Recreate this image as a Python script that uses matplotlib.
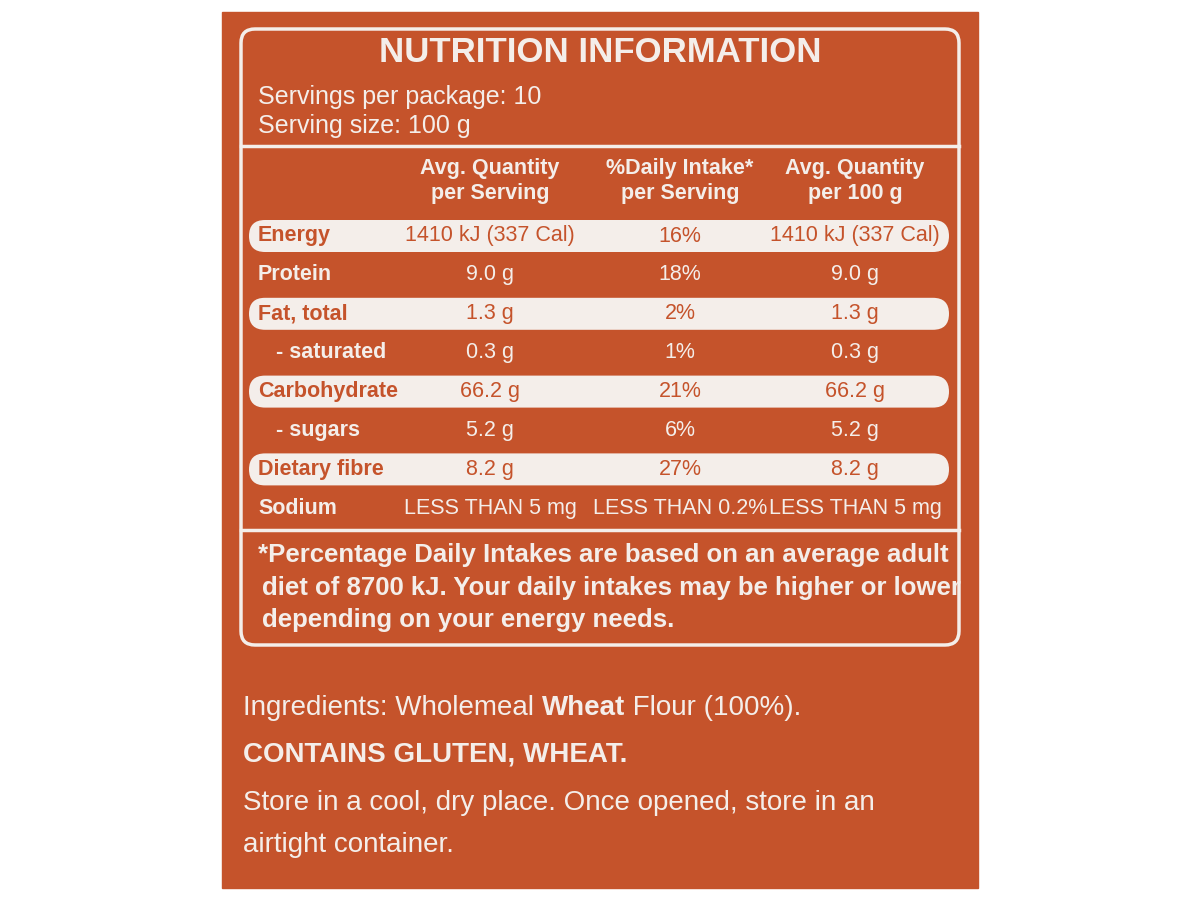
import matplotlib
matplotlib.use("Agg")
import matplotlib.pyplot as plt
from matplotlib.patches import FancyBboxPatch, Rectangle

nutrients = ["Energy", "Protein", "Fat, total", "   - saturated", "Carbohydrate", "   - sugars", "Dietary fibre", "Sodium"]
per_serving = ["1410 kJ (337 Cal)", "9.0 g", "1.3 g", "0.3 g", "66.2 g", "5.2 g", "8.2 g", "LESS THAN 5 mg"]
daily_intake = ["16%", "18%", "2%", "1%", "21%", "6%", "27%", "LESS THAN 0.2%"]
per_100g = ["1410 kJ (337 Cal)", "9.0 g", "1.3 g", "0.3 g", "66.2 g", "5.2 g", "8.2 g", "LESS THAN 5 mg"]
highlight = [True, False, True, False, True, False, True, False]
headers = ["Avg. Quantity\nper Serving", "%Daily Intake*\nper Serving", "Avg. Quantity\nper 100 g"]

OR = "#C5532B"
W = "#F4EEEA"
REG = ["Liberation Sans", "DejaVu Sans"]

fig = plt.figure(figsize=(12, 9), dpi=100)
ax = fig.add_axes([0, 0, 1, 1])
ax.set_xlim(0, 1200); ax.set_ylim(900, 0); ax.axis("off")
ax.add_patch(Rectangle((222, 12), 756, 876, color=OR))
ax.add_patch(FancyBboxPatch((241, 29), 718, 616, boxstyle="round,pad=0,rounding_size=14",
                            fill=False, ec=W, lw=2.5))
ax.text(600, 52, "NUTRITION INFORMATION", ha="center", va="center", color=W,
        fontsize=25, fontweight="bold", family=REG)
ax.text(258, 97, "Servings per package: 10", va="center", color=W, fontsize=18, family=REG)
ax.text(258, 126, "Serving size: 100 g", va="center", color=W, fontsize=18, family=REG)
ax.plot([241, 959], [146, 146], color=W, lw=2.5)
cols = [490, 680, 855]
for c, h in zip(cols, headers):
    ax.text(c, 181, h, ha="center", va="center", color=W, fontsize=15.5, fontweight="bold",
            family=REG, linespacing=1.25)
y0, dy = 236, 38.9
for i, (n, a, b, c) in enumerate(zip(nutrients, per_serving, daily_intake, per_100g)):
    y = y0 + i * dy
    tc = W
    if highlight[i]:
        ax.add_patch(FancyBboxPatch((249, y - 16), 700, 32, boxstyle="round,pad=0,rounding_size=16",
                                    fc=W, ec="none"))
        tc = OR
    ax.text(258, y, n, va="center", color=tc, fontsize=15.5, fontweight="bold", family=REG)
    for x, t in zip(cols, (a, b, c)):
        ax.text(x, y, t, ha="center", va="center", color=tc, fontsize=15.5, family=REG)
ax.plot([241, 959], [530, 530], color=W, lw=2.5)
foot = ["*Percentage Daily Intakes are based on an average adult",
        "diet of 8700 kJ. Your daily intakes may be higher or lower",
        "depending on your energy needs."]
for i, t in enumerate(foot):
    ax.text(258 if i == 0 else 262, 555 + i * 32.5, t, va="center", color=W, fontsize=18.5,
            fontweight="bold", family=REG)
fig.canvas.draw()
r = fig.canvas.get_renderer()
def place(x, y, s, **kw):
    t = ax.text(x, y, s, va="center", color=W, fontsize=20, family=REG, **kw)
    bb = t.get_window_extent(r)
    return x + bb.width
x = place(243, 708, "Ingredients: Wholemeal ")
x = place(x, 708, "Wheat", fontweight="bold")
place(x, 708, " Flour (100%).")
ax.text(243, 755, "CONTAINS GLUTEN, WHEAT.", va="center", color=W, fontsize=20, fontweight="bold", family=REG)
ax.text(243, 803, "Store in a cool, dry place. Once opened, store in an", va="center", color=W, fontsize=20, family=REG)
ax.text(243, 845, "airtight container.", va="center", color=W, fontsize=20, family=REG)
fig.savefig("out.png", dpi=100, facecolor="white")
